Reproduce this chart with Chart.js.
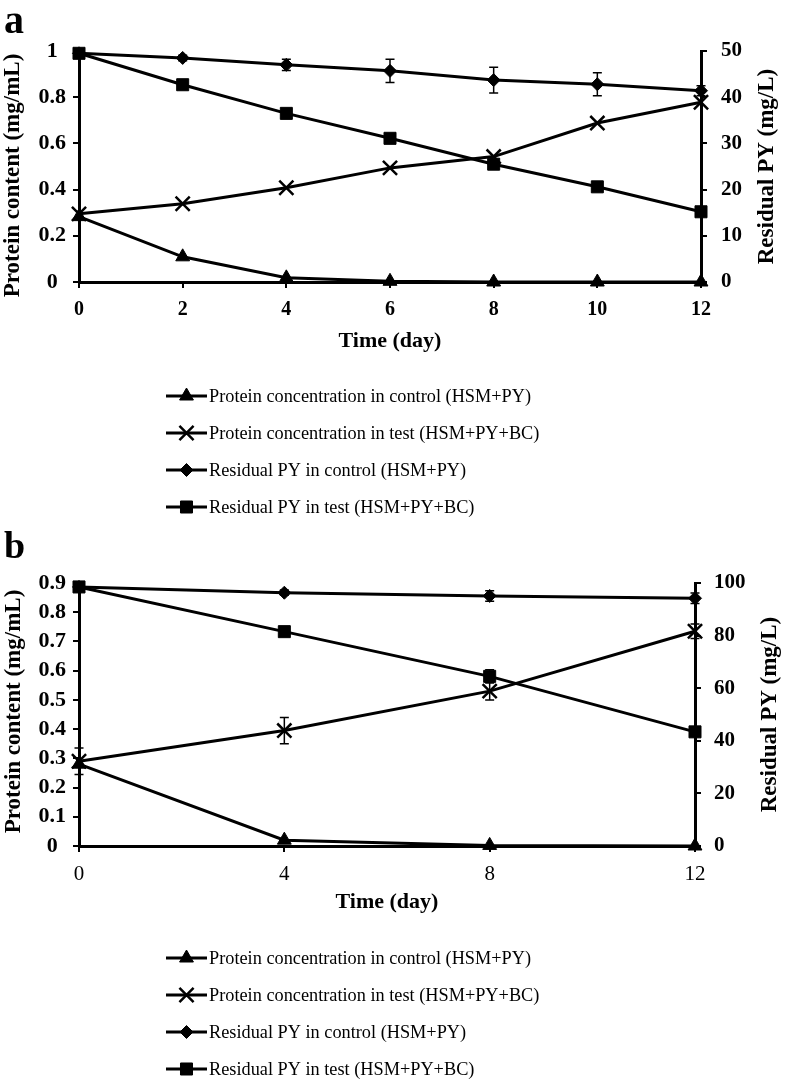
<!DOCTYPE html>
<html><head><meta charset="utf-8">
<script src="https://cdn.jsdelivr.net/npm/chart.js@4.4.1/dist/chart.umd.min.js"></script>
<style>
html,body{margin:0;padding:0;background:#fff;}
.panel{position:relative;width:786px;}
#pa{height:530px;} #pb{height:553px;}
canvas{display:block;}
</style></head><body>
<div class="panel" id="pa"><canvas id="ca"></canvas></div>
<div class="panel" id="pb"><canvas id="cb"></canvas></div>
<script>
// ---------- DATA ----------
const seriesLabels = [
  'Protein concentration in control (HSM+PY)',
  'Protein concentration in test (HSM+PY+BC)',
  'Residual PY in control (HSM+PY)',
  'Residual PY in test (HSM+PY+BC)'
];
const xTitle = 'Time (day)';
const leftTitle = 'Protein content (mg/mL)';
const rightTitle = 'Residual PY (mg/L)';

// Panel a
const daysA = [0, 2, 4, 6, 8, 10, 12];
const proteinControlA = [0.283, 0.109, 0.018, 0.003, 0.0, 0.0, 0.0];
const proteinTestA = [0.295, 0.339, 0.408, 0.494, 0.543, 0.688, 0.778];
const residualControlA = [49.5, 48.5, 47.0, 45.7, 43.7, 42.8, 41.4];
const residualControlErrA = [0.3, 0.6, 1.2, 2.5, 2.8, 2.5, 1.1];
const residualTestA = [49.5, 42.7, 36.5, 31.1, 25.5, 20.6, 15.2];
const xTicksA = [0, 2, 4, 6, 8, 10, 12];
const leftTicksA = [0, 0.2, 0.4, 0.6, 0.8, 1];
const rightTicksA = [0, 10, 20, 30, 40, 50];

// Panel b
const daysB = [0, 4, 8, 12];
const proteinControlB = [0.28, 0.02, 0.002, 0.0];
const proteinTestB = [0.29, 0.395, 0.53, 0.735];
const proteinTestErrB = [0.045, 0.045, 0.03, 0.025];
const residualControlB = [98.5, 96.3, 95.1, 94.2];
const residualControlErrB = [0.5, 1.0, 2.0, 2.0];
const residualTestB = [98.5, 81.5, 64.5, 43.4];
const residualTestErrB = [0.5, 1.0, 2.5, 1.0];
const xTicksB = [0, 4, 8, 12];
const leftTicksB = [0, 0.1, 0.2, 0.3, 0.4, 0.5, 0.6, 0.7, 0.8, 0.9];
const rightTicksB = [0, 20, 40, 60, 80, 100];

// ---------- RENDERING ----------
const FAMILY = "'Liberation Serif', 'Times New Roman', serif";
Chart.defaults.font.family = FAMILY;
Chart.defaults.color = '#000';

const pts = (xs, ys) => xs.map((x, i) => ({x: x, y: ys[i]}));

function drawMarker(ctx, style, r, lw, x, y) {
  ctx.save();
  ctx.fillStyle = '#000'; ctx.strokeStyle = '#000'; ctx.lineWidth = lw;
  if (Chart.helpers && Chart.helpers.drawPoint) {
    Chart.helpers.drawPoint(ctx, {pointStyle: style, radius: r, borderWidth: lw, rotation: 0}, x, y);
  }
  ctx.restore();
}

const errorBarPlugin = {
  id: 'errorBars',
  afterDatasetsDraw(chart) {
    const ctx = chart.ctx;
    chart.data.datasets.forEach((ds, i) => {
      if (!ds.errors) return;
      const meta = chart.getDatasetMeta(i);
      const ys = chart.scales[ds.yAxisID];
      ctx.save();
      ctx.strokeStyle = '#000'; ctx.lineWidth = 1.5;
      meta.data.forEach((el, j) => {
        const e = ds.errors[j]; if (!e) return;
        const v = ds.data[j].y;
        const t = ys.getPixelForValue(v + e), b = ys.getPixelForValue(v - e);
        ctx.beginPath();
        ctx.moveTo(el.x, t); ctx.lineTo(el.x, b);
        ctx.moveTo(el.x - 4.5, t); ctx.lineTo(el.x + 4.5, t);
        ctx.moveTo(el.x - 4.5, b); ctx.lineTo(el.x + 4.5, b);
        ctx.stroke();
      });
      ctx.restore();
    });
  }
};

function vText(ctx, text, x, y, size) {
  ctx.save();
  ctx.translate(x, y);
  ctx.rotate(-Math.PI / 2);
  ctx.font = 'bold ' + size + 'px ' + FAMILY;
  ctx.fillStyle = '#000';
  ctx.textAlign = 'center'; ctx.textBaseline = 'middle';
  ctx.fillText(text, 0, 0);
  ctx.restore();
}

const decorPlugin = {
  id: 'decor',
  afterDraw(chart, args, o) {
    const ctx = chart.ctx;
    const ca = chart.chartArea;
    ctx.save();
    // panel letter
    ctx.fillStyle = '#000';
    ctx.font = 'bold ' + o.letterSize + 'px ' + FAMILY;
    ctx.textAlign = 'left'; ctx.textBaseline = 'alphabetic';
    ctx.fillText(o.letter, 4, o.letterBaseline);
    // axis titles (both read bottom-to-top)
    vText(ctx, leftTitle, o.leftTitleX, (ca.top + ca.bottom) / 2 + o.leftTitleShift, 23);
    vText(ctx, rightTitle, o.rightTitleX, (ca.top + ca.bottom) / 2, 23);
    // legend
    chart.data.datasets.forEach((ds, i) => {
      const y = o.legendTop + i * o.legendStep;
      ctx.strokeStyle = '#000'; ctx.lineWidth = 3;
      ctx.beginPath(); ctx.moveTo(o.legendX0, y); ctx.lineTo(o.legendX1, y); ctx.stroke();
      drawMarker(ctx, ds.pointStyle, ds.pointRadius, ds.pointBorderWidth, (o.legendX0 + o.legendX1) / 2, y);
      ctx.fillStyle = '#000';
      ctx.font = '18.3px ' + FAMILY;
      ctx.textAlign = 'left'; ctx.textBaseline = 'middle';
      ctx.fillText(ds.label, o.legendX1 + 2, y + 1);
    });
    ctx.restore();
  }
};

function makeDatasets(days, pc, pt, rc, rt, errs) {
  const base = {borderColor: '#000', backgroundColor: '#000', pointBackgroundColor: '#000',
    pointBorderColor: '#000', borderWidth: 3, tension: 0, clip: false};
  return [
    Object.assign({}, base, {label: seriesLabels[0], data: pts(days, pc), yAxisID: 'y',
      pointStyle: 'triangle', pointRadius: 8, pointBorderWidth: 1, errors: errs[0]}),
    Object.assign({}, base, {label: seriesLabels[1], data: pts(days, pt), yAxisID: 'y',
      pointStyle: 'crossRot', pointRadius: 10, pointBorderWidth: 2.5, errors: errs[1]}),
    Object.assign({}, base, {label: seriesLabels[2], data: pts(days, rc), yAxisID: 'y2',
      pointStyle: 'rectRot', pointRadius: 6.5, pointBorderWidth: 1, errors: errs[2]}),
    Object.assign({}, base, {label: seriesLabels[3], data: pts(days, rt), yAxisID: 'y2',
      pointStyle: 'rect', pointRadius: 8.5, pointBorderWidth: 1, errors: errs[3]})
  ];
}

function axisCommon() {
  return {
    border: {display: true, color: '#000', width: 3},
    grid: {display: true, drawOnChartArea: false, color: '#000', lineWidth: 2, tickLength: 6}
  };
}

function makeChart(id, p) {
  return new Chart(document.getElementById(id), {
    type: 'line',
    data: {datasets: p.datasets},
    options: {
      responsive: true, maintainAspectRatio: false, animation: false,
      layout: {padding: {top: p.padTop, bottom: p.padBottom, left: 0, right: 0}},
      plugins: {legend: {display: false}, tooltip: {enabled: false}, decor: p.decor},
      scales: {
        x: Object.assign(axisCommon(), {
          type: 'linear', min: 0, max: 12,
          afterBuildTicks: s => { s.ticks = p.xTicks.map(v => ({value: v})); },
          afterFit: s => { s.height = p.xHeight; },
          ticks: {color: '#000', padding: 10, maxRotation: 0, autoSkip: false,
            font: {size: p.xTickSize, weight: p.xTickWeight}, callback: v => String(v)},
          title: {display: true, text: xTitle, color: '#000', font: {size: 22, weight: 'bold'}, padding: 0}
        }),
        y: Object.assign(axisCommon(), {
          type: 'linear', position: 'left', min: 0, max: p.leftMax,
          afterBuildTicks: s => { s.ticks = p.leftTicks.map(v => ({value: v})); },
          afterFit: s => { s.width = 79; },
          ticks: {color: '#000', padding: 7, crossAlign: 'center', autoSkip: false,
            font: {size: 22, weight: 'bold'}, callback: v => String(v)},
          title: {display: false}
        }),
        y2: Object.assign(axisCommon(), {
          type: 'linear', position: 'right', min: 0, max: p.rightMax,
          afterBuildTicks: s => { s.ticks = p.rightTicks.map(v => ({value: v})); },
          afterFit: s => { s.width = p.rightWidth; },
          ticks: {color: '#000', padding: p.rightPad, autoSkip: false,
            font: {size: 21, weight: 'bold'}, callback: v => String(v)},
          title: {display: false}
        })
      }
    },
    plugins: [errorBarPlugin, decorPlugin]
  });
}

makeChart('ca', {
  datasets: makeDatasets(daysA, proteinControlA, proteinTestA, residualControlA, residualTestA,
    [null, null, residualControlErrA, null]),
  padTop: 51, padBottom: 530 - 282 - 73, xHeight: 73,
  xTicks: xTicksA, xTickSize: 20, xTickWeight: 'bold',
  leftMax: 1, leftTicks: leftTicksA, rightMax: 50, rightTicks: rightTicksA, rightWidth: 85, rightPad: 14,
  decor: {letter: 'a', letterSize: 40, letterBaseline: 33, leftTitleX: 13, leftTitleShift: 9,
    rightTitleX: 767, legendTop: 396, legendStep: 37, legendX0: 166, legendX1: 207}
});

makeChart('cb', {
  datasets: makeDatasets(daysB, proteinControlB, proteinTestB, residualControlB, residualTestB,
    [null, proteinTestErrB, residualControlErrB, residualTestErrB]),
  padTop: 53, padBottom: 553 - 316 - 70, xHeight: 70,
  xTicks: xTicksB, xTickSize: 21, xTickWeight: 'normal',
  leftMax: 0.9, leftTicks: leftTicksB, rightMax: 100, rightTicks: rightTicksB, rightWidth: 91, rightPad: 13,
  decor: {letter: 'b', letterSize: 38, letterBaseline: 28, leftTitleX: 14, leftTitleShift: -3,
    rightTitleX: 770, legendTop: 958 - 530, legendStep: 37, legendX0: 166, legendX1: 207}
});
</script>
</body></html>
